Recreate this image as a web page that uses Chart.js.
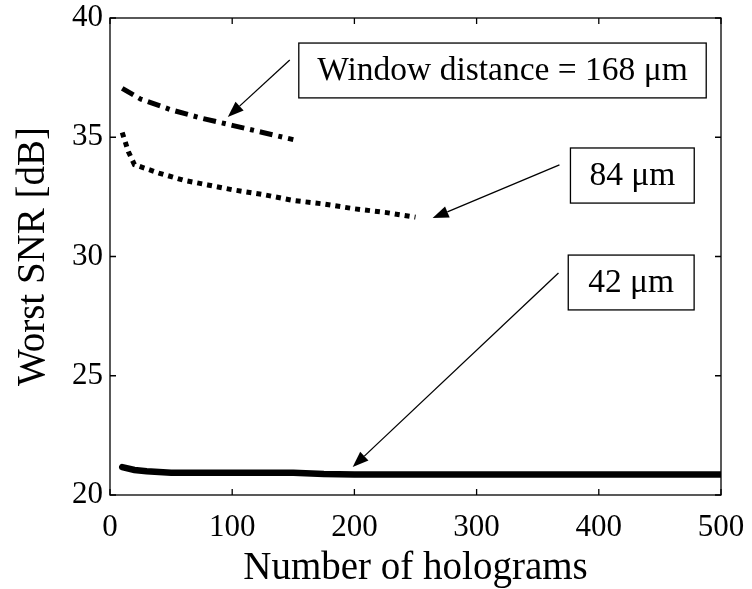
<!DOCTYPE html>
<html>
<head>
<meta charset="utf-8">
<script src="https://cdn.jsdelivr.net/npm/chart.js@4.4.1/dist/chart.umd.min.js"></script>
<style>
  html, body { margin: 0; padding: 0; background: #fff; }
  #wrap { width: 752px; height: 589px; }
</style>
</head>
<body>
<div id="wrap"><canvas id="snr"></canvas></div>
<script>
// Данные
const x168 = [10, 25, 50, 75, 100, 125, 150];
const y168 = [37.05, 36.6, 36.15, 35.8, 35.5, 35.2, 34.9];

const x84 = [10, 15, 20, 40, 60, 80, 100, 125, 150, 175, 200, 225, 250];
const y84 = [35.2, 34.4, 33.85, 33.5, 33.2, 33.0, 32.8, 32.6, 32.35, 32.2, 32.0, 31.85, 31.65];

const x42 = [10, 20, 30, 50, 100, 150, 175, 200, 300, 400, 500];
const y42 = [21.17, 21.05, 21.0, 20.93, 20.93, 20.93, 20.88, 20.86, 20.86, 20.86, 20.86];

const xTicks = [0, 100, 200, 300, 400, 500];
const yTicks = [20, 25, 30, 35, 40];

// Подписи со стрелками (в координатах данных)
const labels = ['Window distance = 168 \u03bcm', '84 \u03bcm', '42 \u03bcm'];
const boxes = [
    [154.5, 38.95, 487.9, 36.65],
    [376.8, 34.55, 478.1, 32.24],
    [375.0, 30.06, 478.0, 27.76]
];
const arrows = [
    [147.1, 38.24, 96.4, 35.85],
    [367.8, 33.84, 264.0, 31.61],
    [367.0, 29.31, 198.6, 21.17]
];

const SERIF = "'Liberation Serif', 'DejaVu Serif', serif";

function pts(xs, ys) {
    return xs.map((x, i) => ({ x: x, y: ys[i] }));
}

// Рамка, внутренние штрихи и подписи
const framePlugin = {
    id: 'frame',
    afterDatasetsDraw(chart) {
        const ctx = chart.ctx;
        const a = chart.chartArea;
        const sx = chart.scales.x;
        const sy = chart.scales.y;
        ctx.save();
        ctx.strokeStyle = '#000';
        ctx.lineWidth = 1.3;
        ctx.strokeRect(a.left, a.top, a.right - a.left, a.bottom - a.top);
        ctx.beginPath();
        xTicks.forEach(v => {
            const px = sx.getPixelForValue(v);
            ctx.moveTo(px, a.bottom); ctx.lineTo(px, a.bottom - 6);
            ctx.moveTo(px, a.top); ctx.lineTo(px, a.top + 6);
        });
        yTicks.forEach(v => {
            const py = sy.getPixelForValue(v);
            ctx.moveTo(a.left, py); ctx.lineTo(a.left + 6, py);
            ctx.moveTo(a.right, py); ctx.lineTo(a.right - 6, py);
        });
        ctx.stroke();

        // рамки с текстом
        ctx.font = '33.5px ' + SERIF;
        ctx.textAlign = 'center';
        ctx.textBaseline = 'middle';
        ctx.fillStyle = '#000';
        boxes.forEach((b, i) => {
            const x1 = sx.getPixelForValue(b[0]);
            const y1 = sy.getPixelForValue(b[1]);
            const x2 = sx.getPixelForValue(b[2]);
            const y2 = sy.getPixelForValue(b[3]);
            ctx.fillStyle = '#fff';
            ctx.fillRect(x1, y1, x2 - x1, y2 - y1);
            ctx.lineWidth = 1.3;
            ctx.strokeRect(x1, y1, x2 - x1, y2 - y1);
            ctx.fillStyle = '#000';
            ctx.fillText(labels[i], (x1 + x2) / 2, (y1 + y2) / 2 + 1);
        });

        // стрелки
        arrows.forEach(ar => {
            const x1 = sx.getPixelForValue(ar[0]);
            const y1 = sy.getPixelForValue(ar[1]);
            const x2 = sx.getPixelForValue(ar[2]);
            const y2 = sy.getPixelForValue(ar[3]);
            const ang = Math.atan2(y2 - y1, x2 - x1);
            const len = 16, half = 6;
            const bx = x2 - len * Math.cos(ang);
            const by = y2 - len * Math.sin(ang);
            ctx.lineWidth = 1.3;
            ctx.beginPath();
            ctx.moveTo(x1, y1);
            ctx.lineTo(bx, by);
            ctx.stroke();
            ctx.beginPath();
            ctx.moveTo(x2, y2);
            ctx.lineTo(bx + half * Math.sin(ang), by - half * Math.cos(ang));
            ctx.lineTo(bx - half * Math.sin(ang), by + half * Math.cos(ang));
            ctx.closePath();
            ctx.fill();
        });
        ctx.restore();
    }
};

const ctx = document.getElementById('snr').getContext('2d');
new Chart(ctx, {
    type: 'line',
    data: {
        datasets: [{
            label: '168 um',
            data: pts(x168, y168),
            borderColor: '#000',
            borderWidth: 5,
            borderDash: [13, 6, 4, 6],
            pointRadius: 0,
            fill: false
        }, {
            label: '84 um',
            data: pts(x84, y84),
            borderColor: '#000',
            borderWidth: 5,
            borderDash: [5, 5],
            pointRadius: 0,
            fill: false
        }, {
            label: '42 um',
            data: pts(x42, y42),
            borderColor: '#000',
            borderWidth: 6.5,
            borderCapStyle: 'round',
            pointRadius: 0,
            fill: false
        }]
    },
    options: {
        responsive: true,
        maintainAspectRatio: false,
        animation: false,
        layout: { padding: { top: 18, right: 31, left: 0, bottom: 0 } },
        plugins: {
            legend: { display: false },
            tooltip: { enabled: false }
        },
        scales: {
            x: {
                type: 'linear',
                position: 'bottom',
                min: 0,
                max: 500,
                afterFit(scale) {
                    scale.height = 94;
                    scale.paddingLeft = 0;
                    scale.paddingRight = 0;
                },
                afterBuildTicks(scale) { scale.ticks = xTicks.map(v => ({ value: v })); },
                grid: { display: false, drawTicks: false },
                border: { display: false },
                ticks: {
                    color: '#000',
                    padding: 14,
                    maxRotation: 0,
                    autoSkip: false,
                    font: { family: SERIF, size: 31 }
                },
                title: {
                    display: true,
                    text: 'Number of holograms',
                    color: '#000',
                    padding: { top: 0, bottom: 1 },
                    font: { family: SERIF, size: 39, lineHeight: 1 }
                }
            },
            y: {
                type: 'linear',
                position: 'left',
                min: 20,
                max: 40,
                afterFit(scale) {
                    scale.width = 110;
                    scale.paddingTop = 0;
                    scale.paddingBottom = 0;
                },
                afterBuildTicks(scale) { scale.ticks = yTicks.map(v => ({ value: v })); },
                grid: { display: false, drawTicks: false },
                border: { display: false },
                ticks: {
                    color: '#000',
                    padding: 7,
                    autoSkip: false,
                    font: { family: SERIF, size: 31 }
                },
                title: {
                    display: true,
                    text: 'Worst SNR [dB]',
                    color: '#000',
                    padding: { top: 14, bottom: 0 },
                    font: { family: SERIF, size: 39, lineHeight: 1 }
                }
            }
        }
    },
    plugins: [framePlugin]
});
</script>
</body>
</html>
